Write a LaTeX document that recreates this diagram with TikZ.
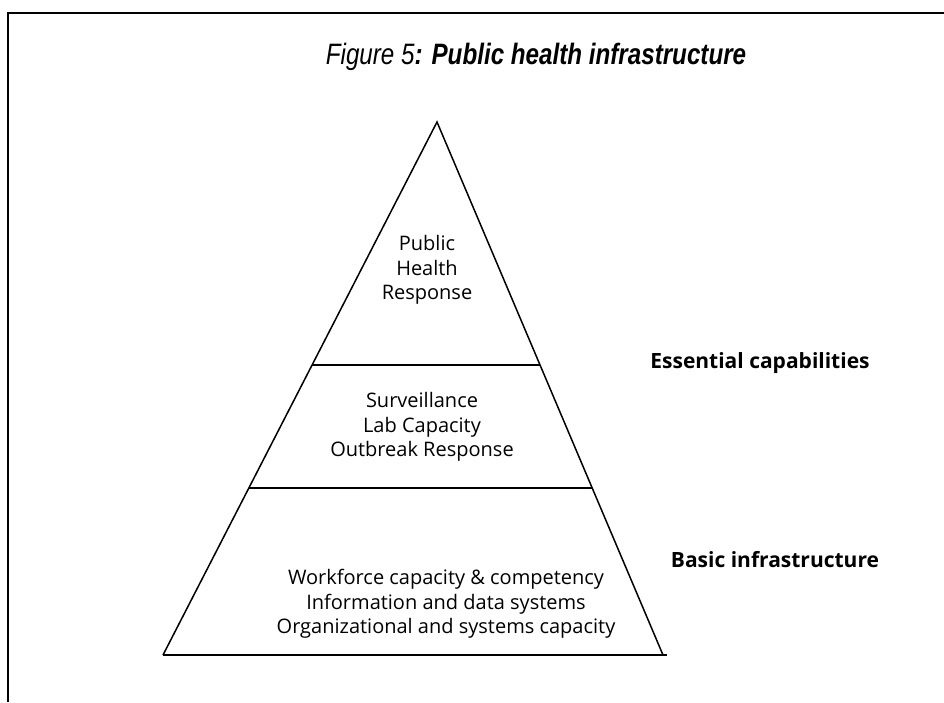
\documentclass[tikz,border=0pt]{standalone}
\usepackage{fontspec}
\setmainfont{Open Sans}
\newfontfamily\titlefont[FakeStretch=0.82]{Liberation Sans}
\newfontfamily\labelfont{Open Sans}
\usetikzlibrary{calc}
\begin{document}
\begin{tikzpicture}[x=1pt,y=-1pt,
  frameline/.style={line width=2pt},
  pyrline/.style={line width=1.5pt},
  tiertext/.style={align=center,font=\fontsize{20}{24.5}\selectfont,inner sep=0pt},
  sidelabel/.style={font=\labelfont\bfseries\fontsize{21}{24}\selectfont,inner sep=0pt}]
\useasboundingbox (0,0) rectangle (944,702);
% frame
\draw[frameline] (8,702) -- (8,13) -- (944,13);
% title
\node[inner sep=0pt] (title) at (536,57) {\titlefont\fontsize{29.5}{34}\selectfont\itshape Figure 5\bfseries: Public health infrastructure};
% pyramid corners
\coordinate (apex) at (437,122);
\coordinate (bl) at (163,655);
\coordinate (br) at (663,655);
\coordinate (d1l) at ($(apex)!0.456!(bl)$);
\coordinate (d1r) at ($(apex)!0.456!(br)$);
\coordinate (d2l) at ($(apex)!0.687!(bl)$);
\coordinate (d2r) at ($(apex)!0.687!(br)$);
\coordinate (bre) at (667,655);
\draw[pyrline] (bl) -- (apex) -- (br);
\draw[pyrline] (bl) -- (bre);
\draw[pyrline] (d1l) -- (d1r);
\draw[pyrline] (d2l) -- (d2r);
% tier texts
\node[tiertext] (top) at (427,270) {Public\\Health\\Response};
\node[tiertext] (mid) at (422,427) {Surveillance\\Lab Capacity\\Outbreak Response};
\node[tiertext] (base) at (446,604) {Workforce capacity \& competency\\Information and data systems\\Organizational and systems capacity};
% side labels
\node[sidelabel] (ess) at (760,363) {Essential capabilities};
\node[sidelabel] (basic) at (775,560) {Basic infrastructure};
\end{tikzpicture}
\end{document}
